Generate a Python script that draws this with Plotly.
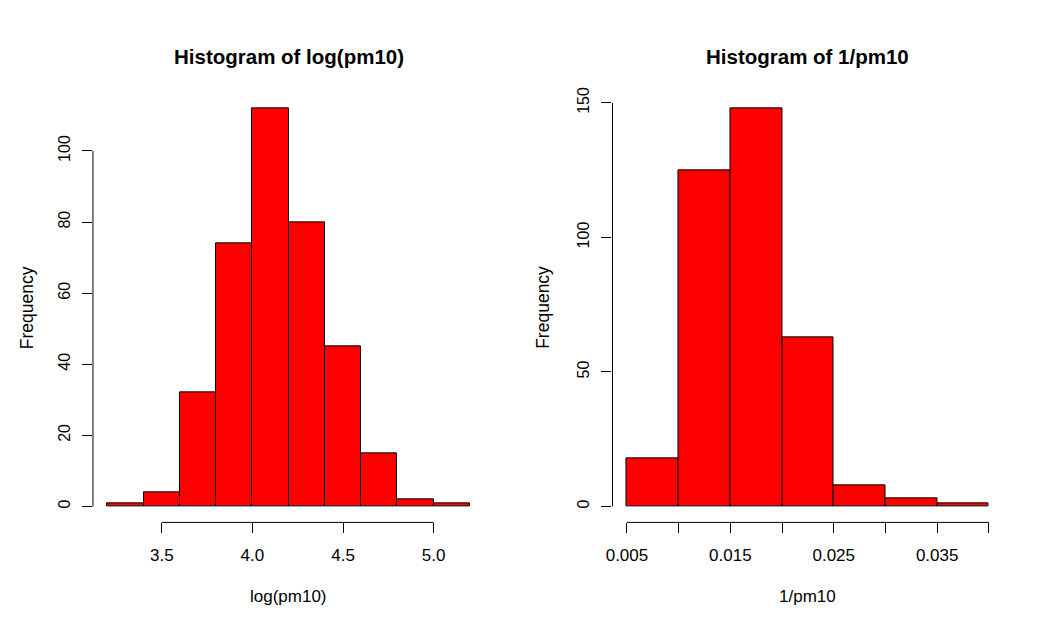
import plotly.graph_objects as go

# ---- data ----
left_breaks = [3.2, 3.4, 3.6, 3.8, 4.0, 4.2, 4.4, 4.6, 4.8, 5.0, 5.2]
left_counts = [1, 4, 32, 74, 112, 80, 45, 15, 2, 1]
left_xticks = [3.5, 4.0, 4.5, 5.0]
left_xticktext = ["3.5", "4.0", "4.5", "5.0"]
left_yticks = [0, 20, 40, 60, 80, 100]

right_breaks = [0.005, 0.010, 0.015, 0.020, 0.025, 0.030, 0.035, 0.040]
right_counts = [18, 125, 148, 63, 8, 3, 1]
right_xticks = [0.005, 0.010, 0.015, 0.020, 0.025, 0.030, 0.035, 0.040]
right_xticktext = ["0.005", "", "0.015", "", "0.025", "", "0.035", ""]
right_yticks = [0, 50, 100, 150]

titles = ["Histogram of log(pm10)", "Histogram of 1/pm10"]
xlabels = ["log(pm10)", "1/pm10"]
ylabel = "Frequency"

# page body has an 8px default margin; build the figure in screen pixels minus that offset
OFF = 8
W, H = 1054 - OFF, 634 - OFF
FONT = "Liberation Sans, Arial, sans-serif"

def fx(px):
    return (px - OFF) / W

def fy(py):
    return 1 - (py - OFF) / H

fig = go.Figure()

def add_hist(breaks, counts, xa, ya):
    centers = [(a + b) / 2 for a, b in zip(breaks[:-1], breaks[1:])]
    widths = [b - a for a, b in zip(breaks[:-1], breaks[1:])]
    fig.add_trace(go.Bar(x=centers, y=counts, width=widths,
                         marker=dict(color="#FF0000", line=dict(color="black", width=1)),
                         xaxis=xa, yaxis=ya, showlegend=False, hoverinfo="x+y"))

add_hist(left_breaks, left_counts, "x", "y")
add_hist(right_breaks, right_counts, "x2", "y2")

# screen-pixel layout of plot regions
left_px = (86.5, 480.5)
right_px = (609.5, 1003)
top_px, bot_px = 88, 521.5
ydom = [fy(bot_px), fy(top_px)]

def xr(b):
    span = b[-1] - b[0]
    return [b[0] - 0.04 * span, b[-1] + 0.04 * span]

def yr(c):
    m = max(c)
    return [-0.04 * m, 1.04 * m]

common_x = dict(showgrid=False, zeroline=False, showline=False, ticks="outside",
                ticklen=10, tickwidth=1, tickcolor="black",
                tickfont=dict(family=FONT, size=17, color="black"),
                tickmode="array", ticklabelstandoff=7)
common_y = dict(showgrid=False, zeroline=False, showline=False, ticks="outside",
                ticklen=10, tickwidth=1, tickcolor="black",
                tickfont=dict(family=FONT, size=16, color="black"),
                tickmode="array", tickangle=-90, ticklabelstandoff=6)

fig.update_layout(
    width=W, height=H,
    margin=dict(l=0, r=0, t=0, b=0),
    paper_bgcolor="white", plot_bgcolor="white",
    bargap=0,
    xaxis=dict(domain=[fx(left_px[0]), fx(left_px[1])], range=xr(left_breaks),
               tickvals=left_xticks, ticktext=left_xticktext, anchor="y", **common_x),
    yaxis=dict(domain=ydom, range=yr(left_counts), tickvals=left_yticks,
               ticktext=[str(v) for v in left_yticks], anchor="x", **common_y),
    xaxis2=dict(domain=[fx(right_px[0]), fx(right_px[1])], range=xr(right_breaks),
                tickvals=right_xticks, ticktext=right_xticktext, anchor="y2", **common_x),
    yaxis2=dict(domain=ydom, range=yr(right_counts), tickvals=right_yticks,
                ticktext=[str(v) for v in right_yticks], anchor="x2", **common_y),
)

# R-style axis lines spanning only first to last tick
for xa, ya, xt, yt in [("x", "y", left_xticks, left_yticks),
                       ("x2", "y2", right_xticks, right_yticks)]:
    fig.add_shape(type="line", xref=xa, yref=ya + " domain", x0=xt[0], x1=xt[-1], y0=0, y1=0,
                  line=dict(color="black", width=1))
    fig.add_shape(type="line", xref=xa + " domain", yref=ya, x0=0, x1=0, y0=yt[0], y1=yt[-1],
                  line=dict(color="black", width=1))

# titles and axis labels
for i, (px, t, xl) in enumerate(zip([left_px, right_px], titles, xlabels)):
    cx = fx((px[0] + px[1]) / 2)
    fig.add_annotation(text="<b>%s</b>" % t, x=cx, y=fy(52), xref="paper", yref="paper",
                       showarrow=False, xanchor="center", yanchor="middle",
                       font=dict(family=FONT, size=20.5, color="black"))
    fig.add_annotation(text=xl, x=cx, y=fy(596), xref="paper", yref="paper",
                       showarrow=False, xanchor="center", yanchor="middle",
                       font=dict(family=FONT, size=17, color="black"))
    fig.add_annotation(text=ylabel, x=fx(20 if i == 0 else 540), y=fy((top_px + bot_px) / 2),
                       xref="paper", yref="paper", showarrow=False, textangle=-90,
                       xanchor="center", yanchor="middle",
                       font=dict(family=FONT, size=17.5, color="black"))

fig.write_html("out.html")
